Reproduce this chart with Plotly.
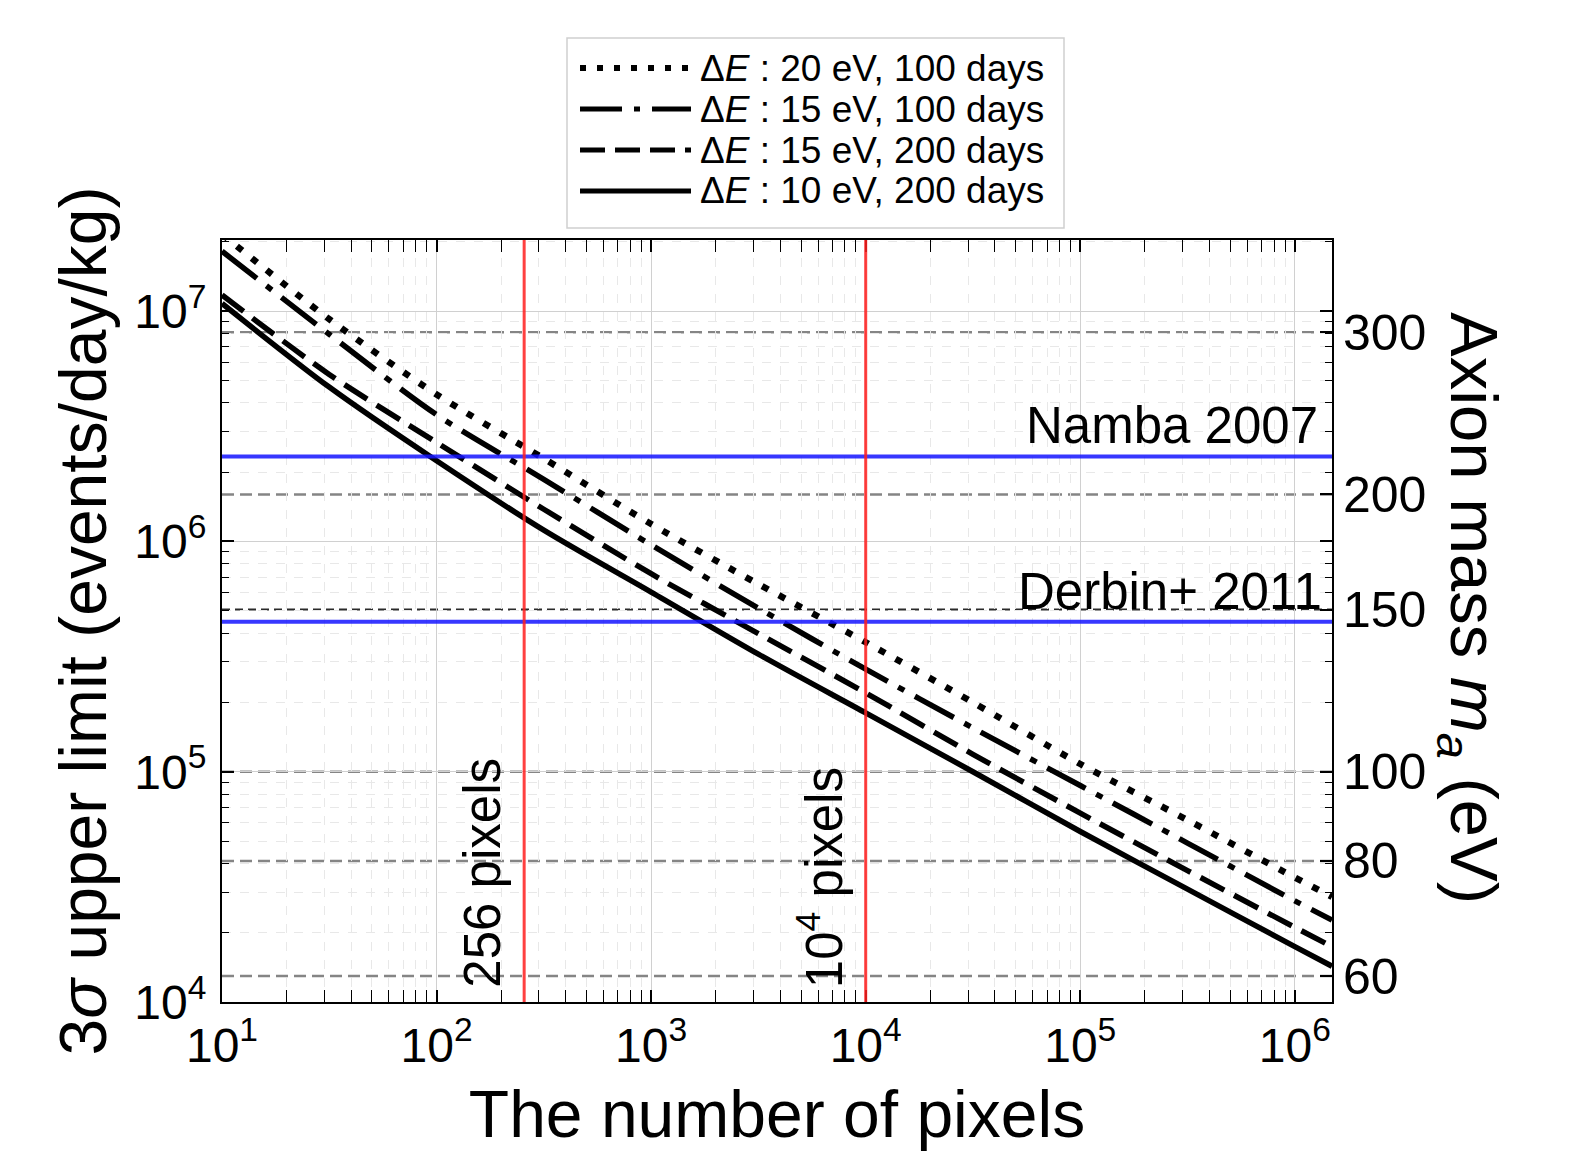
import numpy as np
import plotly.graph_objects as go

# ---------------- data ----------------
n_pixels = [10, 31.6, 100, 316, 1e3, 3.16e3, 1e4, 3.16e4, 1e5, 3.16e5, 1e6, 1.49e6]

limit_20eV_100d = [2.16e7, 9.23e6, 4.35e6, 2.29e6, 1.19e6, 6.53e5, 3.65e5, 2.0e5, 1.08e5, 6.17e4, 3.47e4, 2.86e4]
limit_15eV_100d = [1.82e7, 7.94e6, 3.55e6, 1.86e6, 9.66e5, 5.13e5, 2.79e5, 1.55e5, 8.71e4, 4.90e4, 2.75e4, 2.27e4]
limit_15eV_200d = [1.175e7, 5.31e6, 2.69e6, 1.38e6, 7.24e5, 3.98e5, 2.20e5, 1.19e5, 6.61e4, 3.72e4, 2.11e4, 1.74e4]
limit_10eV_200d = [1.08e7, 4.68e6, 2.24e6, 1.12e6, 6.03e5, 3.24e5, 1.80e5, 1.0e5, 5.5e4, 3.09e4, 1.74e4, 1.43e4]

series_names = ["Δ<i>E</i> : 20 eV, 100 days", "Δ<i>E</i> : 15 eV, 100 days",
                "Δ<i>E</i> : 15 eV, 200 days", "Δ<i>E</i> : 10 eV, 200 days"]

namba_2007 = 2.34e6
derbin_2011 = 4.48e5
pixel_marks = [256, 1e4]
pixel_labels = ["256 pixels", "10<sup>4</sup> pixels"]

mass_ticks = [60, 80, 100, 150, 200, 300]           # eV, right axis
x_tick_vals = [1e1, 1e2, 1e3, 1e4, 1e5, 1e6]
x_tick_text = ["10<sup>1</sup>", "10<sup>2</sup>", "10<sup>3</sup>", "10<sup>4</sup>", "10<sup>5</sup>", "10<sup>6</sup>"]
y_tick_vals = [1e4, 1e5, 1e6, 1e7]
y_tick_text = ["10<sup>4</sup>", "10<sup>5</sup>", "10<sup>6</sup>", "10<sup>7</sup>"]

# rate <-> mass mapping (rate ∝ m^4, 100 eV ↔ 1e5)
X_RANGE = [1.0, np.log10(1.49e6)]
Y_RANGE = [4.0, 7.309]
Y2_RANGE = [2 + (Y_RANGE[0] - 5) / 4, 2 + (Y_RANGE[1] - 5) / 4]

FONT = "Liberation Sans, Arial, Helvetica, sans-serif"
dashes = ["7px,12px", "44px,12px,7px,12px", "27px,11px", "solid"]
leg_dashes = ["6px,11px", "42px,12px,6px,12px", "25px,10px", "solid"]
widths = [6.5, 5.5, 5.5, 5.5]
series = [limit_20eV_100d, limit_15eV_100d, limit_15eV_200d, limit_10eV_200d]

fig = go.Figure()
for name, vals, d, w in zip(series_names, series, dashes, widths):
    fig.add_trace(go.Scatter(x=n_pixels, y=vals, mode="lines", name=name, showlegend=False,
                             line=dict(color="black", width=w, dash=d, shape="spline", smoothing=0.8)))

# invisible trace to anchor the mass axis
fig.add_trace(go.Scatter(x=[n_pixels[0]] * len(mass_ticks), y=mass_ticks, yaxis="y2", mode="markers",
                         marker=dict(opacity=0), hoverinfo="skip", showlegend=False))

shapes = []
# mass reference lines
for m in mass_ticks:
    dark = (m == 150)
    shapes.append(dict(type="line", xref="x domain", x0=0, x1=1, yref="y2",
                       y0=m, y1=m, layer="below",
                       line=dict(color="#2a2a2a" if dark else "#858585", width=1.8 if dark else 2.4,
                                 dash="8px,5px" if dark else "12px,6px")))
# previous limits
for v in [namba_2007, derbin_2011]:
    shapes.append(dict(type="line", xref="x domain", x0=0, x1=1, yref="y",
                       y0=v, y1=v, layer="above",
                       line=dict(color="rgba(20,20,255,0.85)", width=4)))
# pixel markers
for p in pixel_marks:
    shapes.append(dict(type="line", yref="y domain", y0=0, y1=1, xref="x",
                       x0=p, x1=p, layer="above",
                       line=dict(color="rgba(255,30,30,0.85)", width=3)))

# page body has an 8px margin -> compensate
OFF = 8
W, H = 1569 - OFF, 1152 - OFF
L, R, T, B = 222 - OFF, 1332 - OFF, 240 - OFF, 1002 - OFF
def px(xp): return (xp - OFF - L) / (R - L)
def py(yp): return (B - (yp - OFF)) / (B - T)

# custom legend (matplotlib-style long line samples)
shapes.append(dict(type="rect", xref="paper", yref="paper", x0=px(567), x1=px(1064), y0=py(228), y1=py(38),
                   line=dict(color="#d0d0d0", width=1.5), fillcolor="white", layer="above"))
annotations = []
rows = [68, 109, 150, 191]
for name, d, r, w in zip(series_names, leg_dashes, rows, widths):
    shapes.append(dict(type="line", xref="paper", yref="paper", x0=px(580), x1=px(691), y0=py(r), y1=py(r),
                       line=dict(color="black", width=w - 0.5, dash=d), layer="above"))
    annotations.append(dict(xref="paper", yref="paper", x=px(698), y=py(r), xanchor="left", yanchor="middle",
                            text=name, showarrow=False, font=dict(size=37, color="black", family=FONT)))

# text labels
annotations.append(dict(xref="x domain", x=1, xshift=-12, yref="y", y=np.log10(namba_2007), yanchor="bottom",
                        xanchor="right", text="Namba 2007", showarrow=False, font=dict(size=51, color="black", family=FONT)))
annotations.append(dict(xref="x domain", x=1, xshift=-8, yref="y", y=np.log10(derbin_2011), yanchor="bottom",
                        xanchor="right", text="Derbin+ 2011", showarrow=False, font=dict(size=51, color="black", family=FONT)))
for p, lab in zip(pixel_marks, pixel_labels):
    annotations.append(dict(xref="x", x=np.log10(p), xshift=-12, yref="y domain", y=0, yshift=12,
                            xanchor="right", yanchor="bottom", textangle=-90, text=lab, showarrow=False,
                            font=dict(size=51, color="black", family=FONT)))
# right axis title
annotations.append(dict(xref="paper", yref="paper", x=px(1470), y=py(608), xanchor="center", yanchor="middle",
                        textangle=90, text="Axion mass <i>m</i><sub><i>a</i></sub> (eV)", showarrow=False,
                        font=dict(size=67, color="black", family=FONT)))

axis_common = dict(showline=True, linecolor="black", linewidth=2, mirror="allticks", ticks="inside",
                   ticklen=12, tickwidth=1.5, tickcolor="black", showgrid=True, gridcolor="#d0d0d0",
                   gridwidth=1, zeroline=False, tickfont=dict(size=48, color="black", family=FONT),
                   minor=dict(dtick="D1", ticks="inside", ticklen=7, tickwidth=1, tickcolor="black",
                              showgrid=True, gridcolor="#e8e8e8", griddash="dash", gridwidth=1))

fig.update_layout(
    width=W, height=H, plot_bgcolor="white", paper_bgcolor="white",
    margin=dict(l=L, r=W - R, t=T, b=H - B),
    font=dict(family=FONT, color="black"),
    xaxis=dict(type="log", range=X_RANGE, tickmode="array", tickvals=x_tick_vals, ticktext=x_tick_text,
               title=dict(text="The number of pixels", font=dict(size=66, family=FONT), standoff=20),
               **axis_common),
    yaxis=dict(type="log", range=Y_RANGE, tickmode="array", tickvals=y_tick_vals, ticktext=y_tick_text,
               ticklabelstandoff=4,
               title=dict(text="3<i>σ</i> upper limit (events/day/kg)", font=dict(size=66, family=FONT), standoff=6),
               **axis_common),
    yaxis2=dict(type="log", range=Y2_RANGE, overlaying="y", side="right", tickmode="array",
                tickvals=mass_ticks, ticktext=[str(m) for m in mass_ticks], ticks="inside", ticklen=12,
                tickwidth=1.5, tickcolor="black", showgrid=False, zeroline=False, showline=False,
                ticklabelstandoff=10,
                tickfont=dict(size=50, color="black", family=FONT)),
    shapes=shapes, annotations=annotations, showlegend=False,
)

fig.write_html("out.html")
